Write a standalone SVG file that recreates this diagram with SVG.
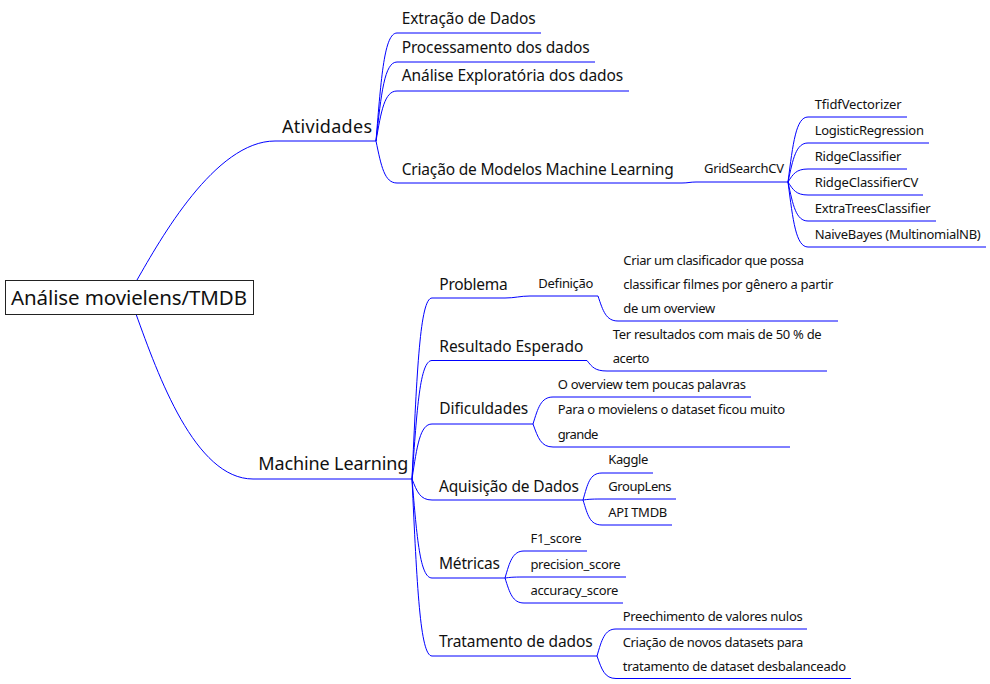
<svg xmlns="http://www.w3.org/2000/svg" width="990" height="684" viewBox="0 0 990 684">
<style>
text{font-family:"Noto Sans","Open Sans","DejaVu Sans",sans-serif;fill:#111}
.t1{font-size:20.5px}
.t2{font-size:18px}
.t3{font-size:15.5px}
.t4{font-size:13px}
.c{fill:none;stroke:#0000ff;stroke-width:1}
.box{fill:#fff;stroke:#222;stroke-width:1}
</style>
<rect width="990" height="684" fill="#fff"/>
<g id="connectors">
<path class="c" d="M137,280 C160,240 215,141 275,141 H376"/>
<path class="c" d="M136,314 C158,375 195,479 253,479 H412"/>
<path class="c" d="M376,141 C381.25,76.2 384.4,33 397,33 H541"/>
<path class="c" d="M376,141 C381.25,93.6 384.4,62 397,62 H595"/>
<path class="c" d="M376,141 C381.25,111 384.4,91 397,91 H629"/>
<path class="c" d="M376,141 C381.25,166.2 384.4,183 397,183 H682 C688,183 690,182 696,182 H788"/>
<path class="c" d="M788,182 C793,143 796,117 808,117 H907"/>
<path class="c" d="M788,182 C793,158.6 796,143 808,143 H929"/>
<path class="c" d="M788,182 C793,174.2 796,169 808,169 H907"/>
<path class="c" d="M788,182 C793,189.8 796,195 808,195 H923"/>
<path class="c" d="M788,182 C793,205.4 796,221 808,221 H936"/>
<path class="c" d="M788,182 C793,221 796,247 808,247 H986"/>
<path class="c" d="M412,479 C417,370.4 420,298 432,298 H505 C515,298 520,296 530,296 H598 C603,311 606,321 618,321 H838"/>
<path class="c" d="M412,479 C417,407.9 420,360.5 432,360.5 H587 C592,367 595,371 607,371 H827"/>
<path class="c" d="M412,479 C417,446 420,424 432,424 H533"/>
<path class="c" d="M533,424 C538,407.8 541,397 553,397 H751"/>
<path class="c" d="M533,424 C538,437.8 541,447 553,447 H790"/>
<path class="c" d="M412,479 C417,491.6 420,500 432,500 H583"/>
<path class="c" d="M583,500 C587.75,483.8 589.6,473 602,473 H653"/>
<path class="c" d="M583,500 C588,499.4 590,499 602,499 H676"/>
<path class="c" d="M583,500 C587.75,515 589.6,525 602,525 H672"/>
<path class="c" d="M412,479 C417,538.4 420,578 432,578 H505"/>
<path class="c" d="M505,578 C509.75,561.8 512.6,551 524,551 H587"/>
<path class="c" d="M505,578 C510,577.4 512,577 524,577 H626"/>
<path class="c" d="M505,578 C509.75,593 512.6,603 524,603 H623"/>
<path class="c" d="M412,479 C417,585.2 420,656 432,656 H597"/>
<path class="c" d="M597,656 C601.75,639.8 604.6,629 616,629 H807"/>
<path class="c" d="M597,656 C601.75,669.5 604.6,678.5 616,678.5 H851"/>
</g>
<g id="root"><rect class="box" x="5.5" y="280.5" width="248" height="34"/><text class="t1" x="11" y="305" textLength="236">Análise movielens/TMDB</text></g>
<g id="atividades"><text class="t2" x="282" y="133" textLength="90">Atividades</text></g>
<g id="extracao"><text class="t3" x="401.7" y="24" textLength="134">Extração de Dados</text></g>
<g id="processamento"><text class="t3" x="401.7" y="52.5" textLength="188">Processamento dos dados</text></g>
<g id="analise"><text class="t3" x="401.7" y="81" textLength="221.5">Análise Exploratória dos dados</text></g>
<g id="criacao-modelos"><text class="t3" x="401.7" y="175" textLength="272">Criação de Modelos Machine Learning</text></g>
<g id="gridsearchcv"><text class="t4" x="704" y="173.3" textLength="80">GridSearchCV</text></g>
<g id="tfidf"><text class="t4" x="814.7" y="109" textLength="87">TfidfVectorizer</text></g>
<g id="logistic"><text class="t4" x="814.7" y="135" textLength="109.3">LogisticRegression</text></g>
<g id="ridge"><text class="t4" x="814.7" y="161" textLength="86.7">RidgeClassifier</text></g>
<g id="ridgecv"><text class="t4" x="814.7" y="187" textLength="103.7">RidgeClassifierCV</text></g>
<g id="extratrees"><text class="t4" x="814.7" y="213" textLength="116">ExtraTreesClassifier</text></g>
<g id="naivebayes"><text class="t4" x="814.7" y="239" textLength="166">NaiveBayes (MultinomialNB)</text></g>
<g id="machine-learning"><text class="t2" x="258.3" y="470" textLength="150">Machine Learning</text></g>
<g id="problema"><text class="t3" x="439.3" y="290" textLength="68.4">Problema</text></g>
<g id="definicao"><text class="t4" x="538.3" y="288.3" textLength="55">Definição</text></g>
<g id="criar"><text class="t4" x="623.3" y="265" textLength="180.7">Criar um clasificador que possa</text><text class="t4" x="623.3" y="289" textLength="210">classificar filmes por gênero a partir</text><text class="t4" x="623.3" y="313" textLength="92">de um overview</text></g>
<g id="resultado"><text class="t3" x="439.3" y="351.7" textLength="144">Resultado Esperado</text></g>
<g id="ter-resultados"><text class="t4" x="612.7" y="339" textLength="209">Ter resultados com mais de 50 % de</text><text class="t4" x="612.7" y="363" textLength="36.7">acerto</text></g>
<g id="dificuldades"><text class="t3" x="439.3" y="414.3" textLength="89">Dificuldades</text></g>
<g id="overview"><text class="t4" x="557.7" y="388.5" textLength="188.3">O overview tem poucas palavras</text></g>
<g id="dataset-grande"><text class="t4" x="557.7" y="413.5" textLength="227.3">Para o movielens o dataset ficou muito</text><text class="t4" x="557.7" y="438.5" textLength="40.7">grande</text></g>
<g id="aquisicao"><text class="t3" x="439" y="491.7" textLength="140">Aquisição de Dados</text></g>
<g id="kaggle"><text class="t4" x="608.3" y="464.3" textLength="40">Kaggle</text></g>
<g id="grouplens"><text class="t4" x="608.3" y="490.5" textLength="63.3">GroupLens</text></g>
<g id="api-tmdb"><text class="t4" x="608.3" y="516.5" textLength="59">API TMDB</text></g>
<g id="metricas"><text class="t3" x="439" y="569.3" textLength="61">Métricas</text></g>
<g id="f1"><text class="t4" x="530.4" y="542.7" textLength="51.3">F1_score</text></g>
<g id="precision"><text class="t4" x="530.4" y="568.7" textLength="90.3">precision_score</text></g>
<g id="accuracy"><text class="t4" x="530.4" y="594.7" textLength="88">accuracy_score</text></g>
<g id="tratamento"><text class="t3" x="439" y="646.7" textLength="153.7">Tratamento de dados</text></g>
<g id="preenchimento"><text class="t4" x="622.7" y="620.7" textLength="180">Preechimento de valores nulos</text></g>
<g id="novos-datasets"><text class="t4" x="622.7" y="646.7" textLength="180.7">Criação de novos datasets para</text><text class="t4" x="622.7" y="670.5" textLength="223.3">tratamento de dataset desbalanceado</text></g>
</svg>
